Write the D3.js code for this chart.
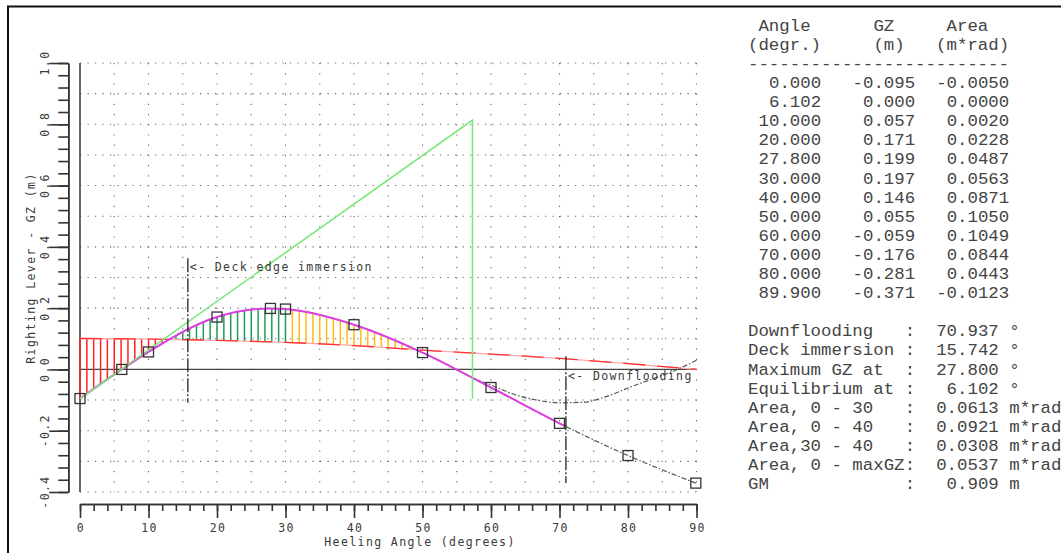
<!DOCTYPE html>
<html>
<head>
<meta charset="utf-8">
<script src="https://cdn.jsdelivr.net/npm/d3@7"></script>
<style>
  html, body { margin: 0; padding: 0; background: #fff; }
  svg { display: block; }
  .mono { font-family: "Liberation Mono", "Courier New", monospace; font-size: 17.4px; fill: #444; }
  .ptext { font-family: "DejaVu Sans Mono", monospace; font-size: 11.5px; letter-spacing: 1.4px; fill: #3a3a3a; }
</style>
</head>
<body>
<svg id="chart" width="1061" height="553"></svg>
<script>
// Stability curve data
const angles = [0, 6.102, 10, 20, 27.8, 30, 40, 50, 60, 70, 80, 89.9];
const gzValues = [-0.095, 0.000, 0.057, 0.171, 0.199, 0.197, 0.146, 0.055, -0.059, -0.176, -0.281, -0.371];
const areaValues = [-0.0050, 0.0000, 0.0020, 0.0228, 0.0487, 0.0563, 0.0871, 0.1050, 0.1049, 0.0844, 0.0443, -0.0123];

// Heeling arm curve
const heelAngles = [0, 10, 20, 30, 40, 50, 60, 70, 80, 90];
const heelArm = [0.101, 0.099, 0.095, 0.088, 0.078, 0.063, 0.050, 0.036, 0.019, 0.000];

// Curve beyond downflooding region
const altAngles = [57.3, 60, 63.7, 66.7, 70.1, 73.5, 76.9, 80.4, 83.8, 87.2, 90];
const altValues = [-0.028, -0.051, -0.084, -0.100, -0.109, -0.107, -0.088, -0.057, -0.029, 0.000, 0.030];

// GM line (tangent at origin, up to 1 rad)
const gmAngles = [0, 57.296, 57.296];
const gmValues = [-0.095, 0.814, -0.095];

// Reference angles
const deckImmersion = 15.742;
const deckSpan = [-0.109, 0.363];
const downflooding = 70.937;
const floodSpan = [-0.371, 0.043];

// Axis ticks
const xMajorTicks = [0, 10, 20, 30, 40, 50, 60, 70, 80, 90];
const yMajorTicks = [-0.4, -0.2, 0.0, 0.2, 0.4, 0.6, 0.8, 1.0];

// Summary values
const statLabels = ["Downflooding", "Deck immersion", "Maximum GZ at", "Equilibrium at",
                    "Area, 0 - 30", "Area, 0 - 40", "Area,30 - 40", "Area, 0 - maxGZ", "GM"];
const statValues = [70.937, 15.742, 27.800, 6.102, 0.0613, 0.0921, 0.0308, 0.0537, 0.909];
const statDigits = [3, 3, 3, 3, 4, 4, 4, 4, 3];
const statUnits = ["°", "°", "°", "°", "m*rad", "m*rad", "m*rad", "m*rad", "m"];

const svg = d3.select("#chart");
svg.append("rect").attr("width", 1061).attr("height", 553).attr("fill", "#fff");

// outer frame
svg.append("path").attr("d", "M8,553 V6.5 H1061")
  .attr("fill", "none").attr("stroke", "#111").attr("stroke-width", 2);

const x = d3.scaleLinear().domain([0, 90]).range([80, 696.5]);
const y = d3.scaleLinear().domain([-0.4, 1.0]).range([492, 63]);

// grid
const grid = svg.append("g");
grid.selectAll("line.h")
  .data(d3.range(-4, 11).map(i => i / 10).filter(v => Math.abs(v) > 1e-9))
  .join("line")
  .attr("x1", x(0)).attr("x2", x(90))
  .attr("y1", d => y(d)).attr("y2", d => y(d))
  .attr("stroke", "#666").attr("stroke-width", 1.1).attr("stroke-dasharray", "1.2,6.3");
grid.selectAll("line.v")
  .data(d3.range(5, 91, 5))
  .join("line")
  .attr("x1", d => x(d)).attr("x2", d => x(d))
  .attr("y1", y(1.0)).attr("y2", y(-0.4))
  .attr("stroke", "#666").attr("stroke-width", 1.1).attr("stroke-dasharray", "1.2,9");

// left border of plot and zero line
svg.append("line").attr("x1", x(0)).attr("x2", x(0)).attr("y1", y(1.0)).attr("y2", y(-0.4))
  .attr("stroke", "#444").attr("stroke-width", 1.6);
svg.append("line").attr("x1", x(0)).attr("x2", x(90)).attr("y1", y(0)).attr("y2", y(0))
  .attr("stroke", "#444").attr("stroke-width", 1.2);

// y ruler
const yRuler = svg.append("g").attr("transform", "translate(68.3,0)");
yRuler.call(d3.axisLeft(y).tickValues(d3.range(0, 36).map(i => -0.4 + i * 0.04)).tickSize(10).tickSizeOuter(0).tickFormat(""));
yRuler.append("g").call(d3.axisLeft(y).tickValues(yMajorTicks).tickSize(19).tickSizeOuter(0).tickFormat(""));
yRuler.selectAll("path, line").attr("stroke", "#333").attr("stroke-width", 1.6);
svg.append("g").selectAll("text")
  .data(yMajorTicks)
  .join("text")
  .attr("class", "ptext")
  .attr("text-anchor", "middle")
  .attr("dominant-baseline", "central")
  .attr("transform", d => `translate(44.5,${y(d)}) rotate(-90)`)
  .text(d => d3.format(".1f")(d).replace("−", "-"));

// x ruler
const xRuler = svg.append("g").attr("transform", "translate(0,504)");
xRuler.call(d3.axisBottom(x).tickValues(d3.range(0, 91, 2)).tickSize(7).tickSizeOuter(0).tickFormat(""));
xRuler.append("g").call(d3.axisBottom(x).tickValues(xMajorTicks).tickSize(14).tickSizeOuter(0).tickFormat(""));
xRuler.selectAll("path, line").attr("stroke", "#333").attr("stroke-width", 1.6);
svg.append("g").selectAll("text")
  .data(xMajorTicks)
  .join("text")
  .attr("class", "ptext")
  .attr("text-anchor", "middle")
  .attr("dominant-baseline", "central")
  .attr("x", d => x(d) + 1).attr("y", 528)
  .text(d => d);

// axis titles
svg.append("text").attr("class", "ptext").attr("text-anchor", "middle").attr("dominant-baseline", "central")
  .attr("x", 420).attr("y", 542).text("Heeling Angle (degrees)");
svg.append("text").attr("class", "ptext").attr("text-anchor", "middle").attr("dominant-baseline", "central")
  .attr("transform", "translate(31,268) rotate(-90)").text("Righting Lever - GZ (m)");

// curve generators
const gzLine = d3.line().x(d => x(d[0])).y(d => y(d[1])).curve(d3.curveMonotoneX);
const gzPts = angles.map((a, i) => [a, gzValues[i]]);
const heelPts = heelAngles.map((a, i) => [a, heelArm[i]]);
const altPts = altAngles.map((a, i) => [a, altValues[i]]);

// hidden paths used for sampling the curves at hatch positions
function sampler(pts) {
  const p = svg.append("path").attr("d", gzLine(pts)).attr("fill", "none").attr("stroke", "none");
  const node = p.node();
  const L = node.getTotalLength();
  const s = d3.range(0, 3001).map(i => node.getPointAtLength(L * i / 3000));
  p.remove();
  return px => {
    for (let i = 1; i < s.length; i++) {
      if (s[i].x >= px) {
        const a = s[i - 1], b = s[i];
        const t = b.x === a.x ? 0 : (px - a.x) / (b.x - a.x);
        return a.y + t * (b.y - a.y);
      }
    }
    return s[s.length - 1].y;
  };
}
const gzAt = sampler(gzPts);
const heelAt = sampler(heelPts);

// hatching between GZ and heeling arm
const hatch = [];
d3.range(0, 60, 1).forEach(deg => {
  const px = x(deg);
  const gy = gzAt(px), hy = heelAt(px);
  if (gy > hy && deg < 20) hatch.push({ px, y1: hy, y2: gy, c: "#ff2222" });
  else if (gy < hy) hatch.push({ px, y1: hy, y2: gy, c: deg <= 30 ? "#1f9e55" : "#ffbb10" });
});
svg.append("g").selectAll("line")
  .data(hatch)
  .join("line")
  .attr("x1", d => d.px).attr("x2", d => d.px)
  .attr("y1", d => d.y1).attr("y2", d => d.y2)
  .attr("stroke", d => d.c).attr("stroke-width", 1.5);

// heeling arm line
svg.append("path").attr("d", gzLine(heelPts)).attr("fill", "none")
  .attr("stroke", "#ffaaaa").attr("stroke-width", 1.3);
svg.append("path").attr("d", gzLine(heelPts)).attr("fill", "none")
  .attr("stroke", "#ff3333").attr("stroke-width", 1.3).attr("stroke-dasharray", "22,12");

// curve beyond downflooding (grey dash-dot)
svg.append("path").attr("d", gzLine(altPts)).attr("fill", "none")
  .attr("stroke", "#555").attr("stroke-width", 1.2).attr("stroke-dasharray", "5,2,1.5,2");
svg.append("path").attr("d", gzLine(gzPts)).attr("fill", "none")
  .attr("stroke", "#555").attr("stroke-width", 1.2).attr("stroke-dasharray", "5,2,1.5,2");

// GZ curve up to downflooding
svg.append("clipPath").attr("id", "floodClip")
  .append("rect").attr("x", 0).attr("y", 0).attr("width", x(downflooding)).attr("height", 553);
svg.append("path").attr("d", gzLine(gzPts)).attr("fill", "none")
  .attr("clip-path", "url(#floodClip)")
  .attr("stroke", "#dd3fe0").attr("stroke-width", 2);

// GM line
svg.append("path")
  .attr("d", d3.line().x((d, i) => x(gmAngles[i])).y((d, i) => y(gmValues[i]))(gmAngles))
  .attr("fill", "none").attr("stroke", "#78e878").attr("stroke-width", 1.6);

// reference verticals
[[deckImmersion, deckSpan, "<- Deck edge immersion", 267], [downflooding, floodSpan, "<- Downflooding", 376]]
  .forEach(([a, span, label, ly]) => {
    svg.append("line").attr("x1", x(a)).attr("x2", x(a)).attr("y1", y(span[1])).attr("y2", y(span[0]))
      .attr("stroke", "#222").attr("stroke-width", 1.3).attr("stroke-dasharray", "14,2,2,2");
    svg.append("text").attr("class", "ptext").attr("dominant-baseline", "central")
      .attr("x", x(a) + 2).attr("y", ly).text(label);
  });

// data point markers
svg.append("g").selectAll("rect")
  .data(gzPts)
  .join("rect")
  .attr("x", d => x(d[0]) - 5).attr("y", d => y(d[1]) - 5)
  .attr("width", 10).attr("height", 10)
  .attr("fill", "none").attr("stroke", "#333").attr("stroke-width", 1.3);

// table on the right
const cw = 10.45, x0 = 748, lh = 19.1, b0 = 30.7;
const col = c => x0 + c * cw;
const T = svg.append("g").attr("class", "mono");
const put = (txt, c, row, anchor) => T.append("text").attr("x", col(c)).attr("y", b0 + row * lh)
  .attr("text-anchor", anchor || "start").text(txt);
put("Angle", 1, 0); put("GZ", 12, 0); put("Area", 19, 0);
put("(degr.)", 0, 1); put("(m)", 12, 1); put("(m*rad)", 18, 1);
put("-------------------------", 0, 2);
angles.forEach((a, i) => {
  put(a.toFixed(3), 7, 3 + i, "end");
  put(gzValues[i].toFixed(3), 16, 3 + i, "end");
  put(areaValues[i].toFixed(4), 25, 3 + i, "end");
});
statLabels.forEach((l, i) => {
  const row = 3 + angles.length + 1 + i;
  put(l, 0, row);
  put(":", 15, row);
  put(statValues[i].toFixed(statDigits[i]), 24, row, "end");
  put(statUnits[i], 25, row);
});
</script>
</body>
</html>
